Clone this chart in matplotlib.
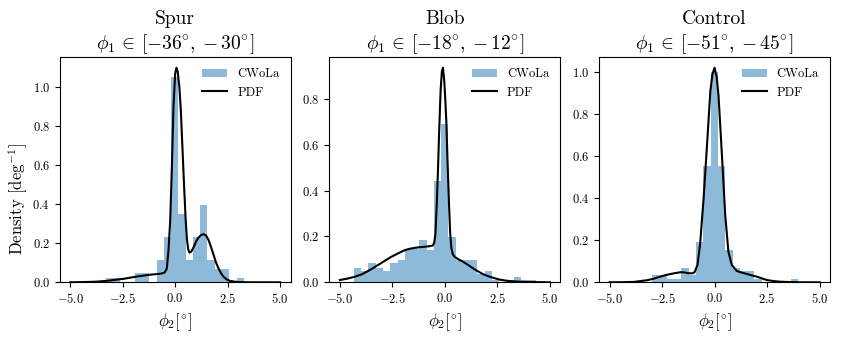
import numpy as np
import matplotlib
matplotlib.use("Agg")
import matplotlib.pyplot as plt

plt.rcParams['font.family'] = 'serif'
plt.rcParams['font.serif'] = ['cmr10']
plt.rcParams['mathtext.fontset'] = 'cm'
plt.rcParams['axes.formatter.use_mathtext'] = True

# panel titles
names = ['Spur', 'Blob', 'Control']
phi1_ranges = [(-36, -30), (-18, -12), (-51, -45)]

# histogram (CWoLa) -- first edge, bin width, density heights
spur_start, spur_width = -3.30, 0.3456
spur_heights = [0.023, 0.023, 0.0, 0.0, 0.046, 0.046, 0.0, 0.116, 0.232, 1.05,
                0.35, 0.116, 0.232, 0.397, 0.116, 0.07, 0.07, 0.0, 0.023]

blob_start, blob_width = -4.33, 0.346
blob_heights = [0.061, 0.049, 0.085, 0.061, 0.049, 0.085, 0.097, 0.145, 0.145, 0.184,
                0.141, 0.44, 0.69, 0.196, 0.097, 0.097, 0.097, 0.036, 0.048, 0.012,
                0.0, 0.012, 0.024, 0.012, 0.012]

ctrl_start, ctrl_width = -2.97, 0.348
ctrl_heights = [0.035, 0.035, 0.017, 0.017, 0.069, 0.035, 0.19, 0.556, 1.0, 0.556,
                0.155, 0.069, 0.052, 0.052, 0.017, 0.0, 0.0, 0.0, 0.0, 0.017]

# PDF curves
spur_pdf_x = [-5.0, -4.4, -3.8, -3.2, -2.45, -1.75, -1.1, -0.7, -0.5, -0.4, -0.32, -0.24,
              -0.16, -0.08, 0.0, 0.06, 0.12, 0.2, 0.27, 0.35, 0.43, 0.5, 0.56, 0.62, 0.68,
              0.77, 0.87, 1.0, 1.11, 1.23, 1.35, 1.47, 1.59, 1.71, 1.83, 1.95, 2.06, 2.18,
              2.30, 2.45, 2.62, 2.85, 3.1, 3.6, 5.0]
spur_pdf_y = [0.0, 0.001, 0.003, 0.008, 0.018, 0.031, 0.040, 0.044, 0.050, 0.07, 0.16, 0.31,
              0.58, 0.90, 1.07, 1.10, 1.08, 1.00, 0.88, 0.68, 0.48, 0.32, 0.22, 0.17, 0.152,
              0.158, 0.178, 0.21, 0.229, 0.242, 0.247, 0.240, 0.217, 0.18, 0.14, 0.10, 0.072,
              0.047, 0.029, 0.015, 0.007, 0.003, 0.001, 0.0, 0.0]

blob_pdf_x = [-5.0, -4.65, -4.3, -3.95, -3.66, -3.38, -3.10, -2.82, -2.55, -2.23, -1.91,
              -1.68, -1.44, -1.2, -0.96, -0.75, -0.57, -0.50, -0.45, -0.39, -0.33, -0.27,
              -0.20, -0.14, -0.09, -0.03, 0.02, 0.07, 0.13, 0.20, 0.25, 0.31, 0.38, 0.47,
              0.65, 0.86, 1.1, 1.34, 1.57, 1.81, 2.05, 2.29, 2.6, 2.93, 3.3, 3.72, 4.3, 5.0]
blob_pdf_y = [0.010, 0.016, 0.024, 0.035, 0.049, 0.064, 0.080, 0.096, 0.111, 0.126, 0.140,
              0.146, 0.150, 0.153, 0.155, 0.157, 0.160, 0.175, 0.21, 0.33, 0.48, 0.66,
              0.84, 0.92, 0.935, 0.88, 0.80, 0.70, 0.52, 0.336, 0.22, 0.148, 0.122, 0.111,
              0.10, 0.090, 0.076, 0.061, 0.048, 0.036, 0.027, 0.020, 0.012, 0.007, 0.004,
              0.002, 0.001, 0.0]

ctrl_pdf_x = [-5.0, -4.4, -3.84, -3.21, -2.9, -2.58, -2.3, -2.02, -1.63, -1.43, -1.23, -1.05,
              -0.95, -0.81, -0.68, -0.52, -0.36, -0.20, -0.1, 0.0, 0.1, 0.19, 0.35, 0.51,
              0.66, 0.82, 1.06, 1.3, 1.54, 1.77, 2.01, 2.25, 2.49, 2.8, 3.12, 3.6, 4.2, 5.0]
ctrl_pdf_y = [0.0, 0.0005, 0.002, 0.010, 0.017, 0.027, 0.035, 0.041, 0.048, 0.047, 0.043,
              0.043, 0.048, 0.083, 0.19, 0.40, 0.65, 0.91, 0.99, 1.022, 0.98, 0.89, 0.61,
              0.32, 0.146, 0.083, 0.054, 0.046, 0.040, 0.033, 0.027, 0.019, 0.011, 0.006,
              0.003, 0.001, 0.0, 0.0]

hists = [(spur_start, spur_width, spur_heights),
         (blob_start, blob_width, blob_heights),
         (ctrl_start, ctrl_width, ctrl_heights)]
pdfs = [(spur_pdf_x, spur_pdf_y), (blob_pdf_x, blob_pdf_y), (ctrl_pdf_x, ctrl_pdf_y)]

fig, axs = plt.subplots(1, 3, figsize=(8.43, 3.37), dpi=100)
fig.subplots_adjust(left=0.0708, right=0.9846, bottom=0.1623, top=0.8309, wspace=0.1675)

for i, ax in enumerate(axs):
    start, width, heights = hists[i]
    edges = start + width * np.arange(len(heights) + 1)
    centers = 0.5 * (edges[:-1] + edges[1:])
    ax.hist(centers, bins=edges, weights=heights, color='C0', alpha=0.5, label='CWoLa')
    px, py = pdfs[i]
    ax.plot(px, py, color='k', lw=1.5, label='PDF')

    lo, hi = phi1_ranges[i]
    ax.set_title(f'{names[i]}\n$\\phi_1 \\,\\in\\, [{lo}^{{\\circ}}, {hi}^{{\\circ}}]$', fontsize=14)
    ax.set_xlabel(r'$\phi_2[^{\circ}]$', fontsize=12)
    ax.set_xticks([-5, -2.5, 0, 2.5, 5])
    ax.tick_params(axis='both', labelsize=9)
    ax.legend(loc='upper right', frameon=False, fontsize=9)

axs[0].set_ylabel(r'Density [deg$^{-1}$]', fontsize=12)
axs[0].yaxis.set_label_coords(-0.13, 0.37)

plt.savefig('out.png', dpi=100)
